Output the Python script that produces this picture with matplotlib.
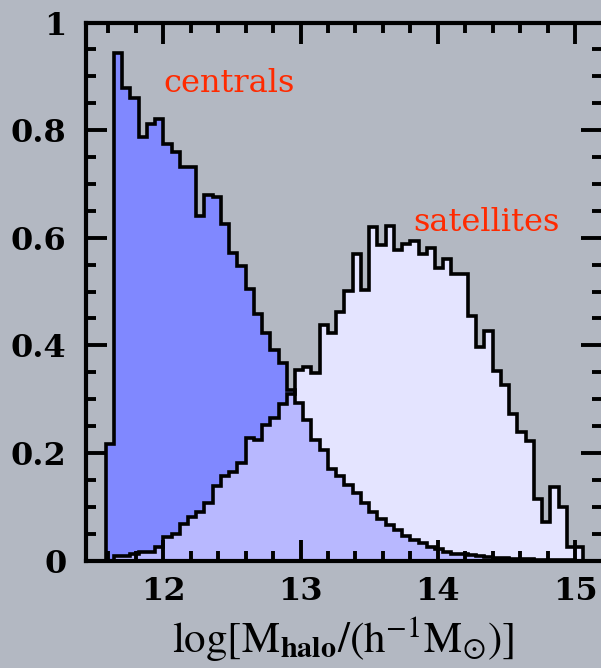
"""
Halo mass distribution of centrals and satellites.
"""

import matplotlib

matplotlib.use("Agg")
import matplotlib.pyplot as plt
import numpy as np
from matplotlib.ticker import FuncFormatter, MultipleLocator

BG = "#b3b8c2"
CEN_COLOR = "#8088ff"
SAT_COLOR = "#e4e4ff"
BOTH_COLOR = "#b8b8ff"
LABEL_RED = "#ff2a00"

# bins in log halo mass
BIN_START = 11.58
BIN_WIDTH = 0.06
N_BINS = 58

centrals = [
    0.217, 0.943, 0.879, 0.859, 0.787, 0.811, 0.821, 0.774, 0.760, 0.731,
    0.731, 0.640, 0.679, 0.675, 0.625, 0.571, 0.547, 0.504, 0.459, 0.423,
    0.391, 0.367, 0.317, 0.292, 0.261, 0.224, 0.205, 0.171, 0.157, 0.140,
    0.125, 0.106, 0.091, 0.077, 0.066, 0.057, 0.046, 0.038, 0.032, 0.026,
    0.021, 0.016, 0.013, 0.0115, 0.010, 0.008, 0.0065, 0.005, 0.004, 0.003,
    0.0025, 0.002, 0.0015, 0.001, 0.0007, 0.0005, 0.0003, 0.0,
]

satellites = [
    0.0, 0.009, 0.009, 0.013, 0.015, 0.015, 0.026, 0.044, 0.049, 0.068,
    0.081, 0.091, 0.106, 0.138, 0.157, 0.165, 0.181, 0.228, 0.224, 0.252,
    0.264, 0.291, 0.310, 0.354, 0.359, 0.348, 0.437, 0.423, 0.461, 0.501,
    0.569, 0.502, 0.620, 0.587, 0.621, 0.577, 0.588, 0.594, 0.570, 0.580,
    0.543, 0.561, 0.533, 0.533, 0.455, 0.397, 0.426, 0.352, 0.326, 0.272,
    0.239, 0.223, 0.114, 0.072, 0.136, 0.099, 0.025, 0.025,
]

x_ticks = [12, 13, 14, 15]
y_ticks = [0, 0.2, 0.4, 0.6, 0.8, 1.0]

edges = BIN_START + BIN_WIDTH * np.arange(N_BINS + 1)
cen = np.array(centrals)
sat = np.array(satellites)

plt.rcParams["mathtext.fontset"] = "stix"

fig = plt.figure(figsize=(6.01, 6.68), dpi=100, facecolor=BG)
ax = fig.add_axes([0.1431, 0.1609, 0.8586, 0.8054], facecolor=BG)

ax.stairs(cen, edges, fill=True, color=CEN_COLOR, lw=0)
ax.stairs(sat, edges, fill=True, color=SAT_COLOR, lw=0)
ax.stairs(np.minimum(cen, sat), edges, fill=True, color=BOTH_COLOR, lw=0)
ax.stairs(cen, edges, baseline=0, color="black", lw=2.6)
ax.stairs(sat, edges, baseline=0, color="black", lw=2.6)

ax.set_xlim(11.437, 15.197)
ax.set_ylim(0, 1)

ax.set_xticks(x_ticks)
ax.set_yticks(y_ticks)
ax.xaxis.set_minor_locator(MultipleLocator(0.2))
ax.yaxis.set_minor_locator(MultipleLocator(0.05))
ax.yaxis.set_major_formatter(FuncFormatter(lambda v, _: f"{v:g}"))

ax.tick_params(which="both", direction="in", top=True, right=True,
               width=2.8, color="black")
ax.tick_params(which="major", length=15)
ax.tick_params(which="minor", length=7.5)
ax.tick_params(axis="x", pad=11)
ax.tick_params(axis="y", pad=14)
for lbl in ax.get_xticklabels() + ax.get_yticklabels():
    lbl.set_fontfamily("DejaVu Serif")
    lbl.set_fontweight("bold")
    lbl.set_fontsize(23)

for sp in ax.spines.values():
    sp.set_linewidth(3)
    sp.set_zorder(5)

ax.text(12.0, 0.871, "centrals", color=LABEL_RED, fontsize=23,
        family="DejaVu Serif", va="baseline")
ax.text(13.82, 0.612, "satellites", color=LABEL_RED, fontsize=23,
        family="DejaVu Serif", va="baseline")

fig.text(0.571, 0.0225,
         r"$\log[\mathrm{M}_{\mathbf{halo}}/(\mathrm{h}^{-1}\mathrm{M}_{\odot})]$",
         fontsize=31, ha="center", va="baseline")

fig.savefig("out.png", dpi=100, facecolor=BG)
plt.close(fig)
